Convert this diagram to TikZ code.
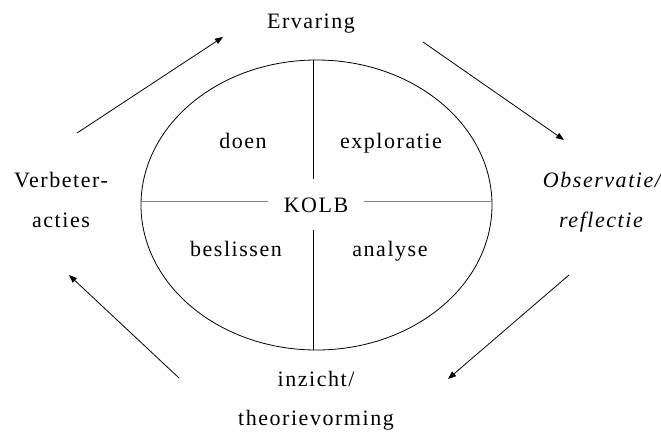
\documentclass[tikz,border=0pt]{standalone}
\usepackage{fontspec}
\setmainfont{Liberation Serif}[LetterSpace=7]
\usetikzlibrary{arrows.meta}
\begin{document}
\begin{tikzpicture}[x=1pt,y=-1pt,
  lbl/.style={anchor=base,inner sep=0pt,font=\fontsize{22}{26}\selectfont},
  arr/.style={line width=0.8pt,-{Triangle[length=8pt,width=6pt]}},
  divider/.style={line width=0.8pt}]
\useasboundingbox (0,0) rectangle (661,432);
% ellipse
\draw[line width=0.8pt] (316.5,205) ellipse [x radius=175.5, y radius=145];
\coordinate (vt) at (313,60);
\coordinate (vtb) at (313,179);
\coordinate (vbt) at (313,230);
\coordinate (vb) at (313,350);
\coordinate (hl) at (141,201.5);
\coordinate (hlr) at (268,201.5);
\coordinate (hrl) at (364,201.5);
\coordinate (hr) at (492,201.5);
\draw[divider] (vt) -- (vtb);
\draw[divider] (vbt) -- (vb);
\draw[divider,gray] (hl) -- (hlr);
\draw[divider,gray] (hrl) -- (hr);
% inner labels
\node[lbl] (kolb) at (316,212) {KOLB};
\node[lbl] (doen) at (243,148) {doen};
\node[lbl] (expl) at (391,148) {exploratie};
\node[lbl] (besl) at (236,256) {beslissen};
\node[lbl] (anal) at (390,256) {analyse};
% outer labels
\node[lbl] (erv) at (311,28) {Ervaring};
\node[lbl] (obs1) at (602,187) {\itshape Observatie/};
\node[lbl] (obs2) at (601,227) {\itshape reflectie};
\node[lbl] (inz1) at (316,386) {inzicht/};
\node[lbl] (inz2) at (316,425) {theorievorming};
\node[lbl] (ver1) at (61,187) {Verbeter-};
\node[lbl] (ver2) at (61,227) {acties};
% arrows
\coordinate (a1s) at (77,133);
\coordinate (a1e) at (223,37);
\coordinate (a2s) at (423,42);
\coordinate (a2e) at (564,140);
\coordinate (a3s) at (569,275);
\coordinate (a3e) at (448,379);
\coordinate (a4s) at (179,378);
\coordinate (a4e) at (69,275);
\draw[arr] (a1s) -- (a1e);
\draw[arr] (a2s) -- (a2e);
\draw[arr] (a3s) -- (a3e);
\draw[arr] (a4s) -- (a4e);
\end{tikzpicture}
\end{document}
